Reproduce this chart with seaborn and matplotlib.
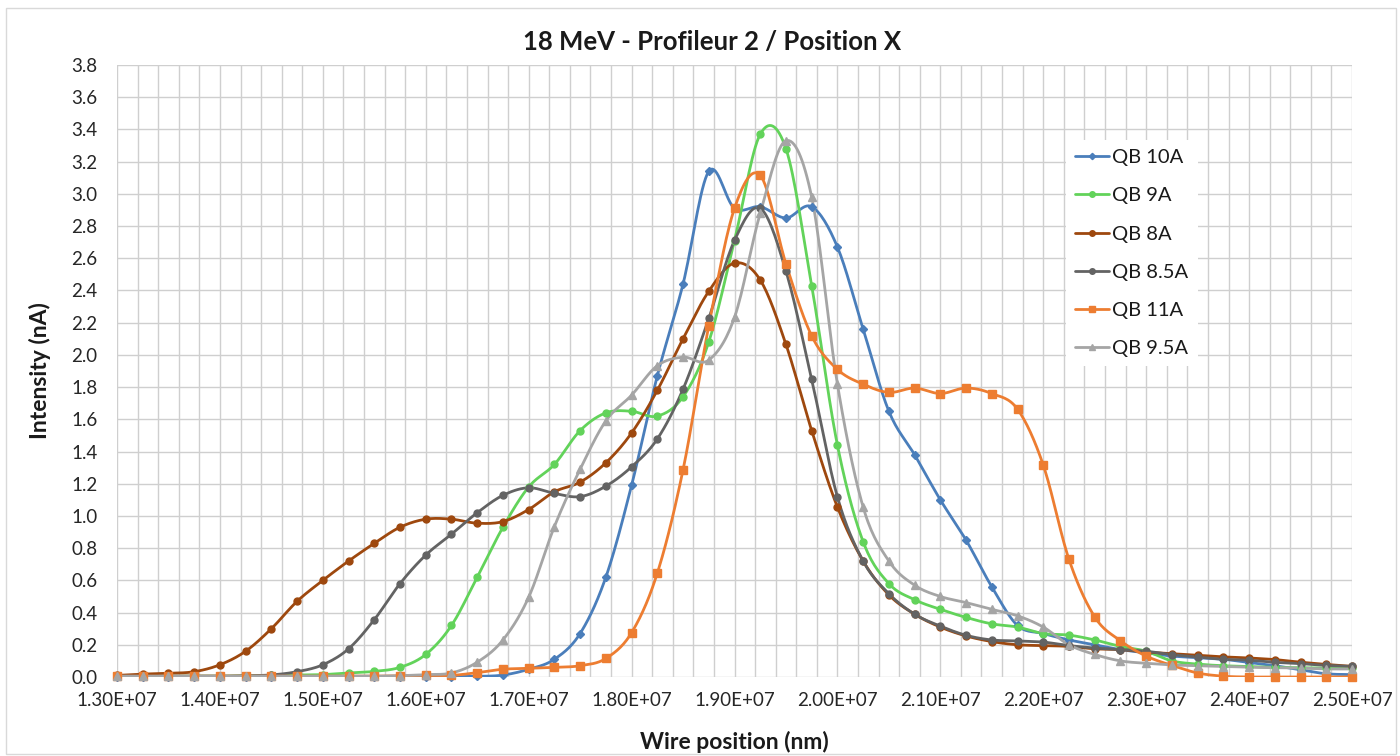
import numpy as np
import pandas as pd
import seaborn as sns
import matplotlib
matplotlib.use("Agg")
import matplotlib.pyplot as plt
from matplotlib.ticker import FuncFormatter, MultipleLocator
from matplotlib.lines import Line2D
from matplotlib.patches import Rectangle

# ---------------- data ----------------
wire_position = [
    1.300e7, 1.325e7, 1.350e7, 1.375e7, 1.400e7, 1.425e7, 1.450e7, 1.475e7,
    1.500e7, 1.525e7, 1.550e7, 1.575e7, 1.600e7, 1.625e7, 1.650e7, 1.675e7,
    1.700e7, 1.725e7, 1.750e7, 1.775e7, 1.800e7, 1.825e7, 1.850e7, 1.875e7,
    1.900e7, 1.925e7, 1.950e7, 1.975e7, 2.000e7, 2.025e7, 2.050e7, 2.075e7,
    2.100e7, 2.125e7, 2.150e7, 2.175e7, 2.200e7, 2.225e7, 2.250e7, 2.275e7,
    2.300e7, 2.325e7, 2.350e7, 2.375e7, 2.400e7, 2.425e7, 2.450e7, 2.475e7,
    2.500e7,
]

qb_10a = [0.0, 0.0, 0.0, 0.0, 0.0, 0.0, 0.0, 0.0, 0.0, 0.0, 0.0, 0.0, 0.0,
          0.002, 0.004, 0.012, 0.048, 0.11, 0.27, 0.62, 1.19, 1.87, 2.44, 3.14,
          2.91, 2.92, 2.85, 2.92, 2.67, 2.16, 1.65, 1.38, 1.10, 0.85, 0.56,
          0.32, 0.27, 0.23, 0.20, 0.17, 0.15, 0.13, 0.12, 0.11, 0.09, 0.07,
          0.045, 0.02, 0.015]

qb_9a = [0.005, 0.005, 0.005, 0.005, 0.005, 0.008, 0.010, 0.012, 0.015, 0.025,
         0.035, 0.06, 0.14, 0.32, 0.62, 0.93, 1.18, 1.32, 1.53, 1.64, 1.65,
         1.62, 1.74, 2.08, 2.71, 3.37, 3.28, 2.43, 1.44, 0.84, 0.58, 0.48,
         0.42, 0.37, 0.33, 0.31, 0.27, 0.26, 0.23, 0.19, 0.16, 0.10, 0.08,
         0.07, 0.065, 0.06, 0.058, 0.055, 0.053]

qb_8a = [0.01, 0.018, 0.023, 0.033, 0.076, 0.16, 0.30, 0.47, 0.60, 0.72, 0.83,
         0.93, 0.98, 0.98, 0.955, 0.965, 1.04, 1.15, 1.21, 1.33, 1.515, 1.78,
         2.10, 2.395, 2.57, 2.465, 2.065, 1.53, 1.055, 0.72, 0.51, 0.39, 0.31,
         0.255, 0.22, 0.20, 0.195, 0.19, 0.175, 0.17, 0.155, 0.145, 0.135,
         0.125, 0.118, 0.108, 0.092, 0.078, 0.066]

qb_8_5a = [0.005, 0.005, 0.005, 0.005, 0.005, 0.008, 0.013, 0.033, 0.076,
           0.175, 0.356, 0.58, 0.757, 0.887, 1.02, 1.128, 1.175, 1.14, 1.12,
           1.185, 1.305, 1.478, 1.787, 2.226, 2.711, 2.91, 2.52, 1.848, 1.118,
           0.72, 0.517, 0.39, 0.316, 0.259, 0.23, 0.224, 0.217, 0.195, 0.18,
           0.17, 0.16, 0.139, 0.124, 0.11, 0.104, 0.091, 0.083, 0.072, 0.066]

qb_11a = [0.005, 0.005, 0.005, 0.005, 0.005, 0.005, 0.005, 0.005, 0.005,
          0.005, 0.005, 0.008, 0.01, 0.01, 0.027, 0.048, 0.054, 0.06, 0.07,
          0.115, 0.275, 0.645, 1.286, 2.18, 2.91, 3.115, 2.565, 2.118, 1.91,
          1.818, 1.767, 1.794, 1.76, 1.794, 1.76, 1.663, 1.316, 0.73, 0.373,
          0.225, 0.13, 0.072, 0.025, 0.005, 0.0, 0.0, 0.0, 0.0, 0.0]

qb_9_5a = [0.005, 0.005, 0.005, 0.005, 0.005, 0.005, 0.005, 0.005, 0.005,
           0.005, 0.005, 0.008, 0.015, 0.025, 0.092, 0.23, 0.495, 0.934, 1.29,
           1.59, 1.75, 1.933, 1.986, 1.968, 2.233, 2.88, 3.33, 2.98, 1.818,
           1.055, 0.72, 0.57, 0.50, 0.462, 0.42, 0.38, 0.31, 0.20, 0.14, 0.10,
           0.085, 0.075, 0.07, 0.065, 0.06, 0.058, 0.055, 0.05, 0.05]

series_names = ["QB 10A", "QB 9A", "QB 8A", "QB 8.5A", "QB 11A", "QB 9.5A"]
series_values = [qb_10a, qb_9a, qb_8a, qb_8_5a, qb_11a, qb_9_5a]

# ---------------- style ----------------
colors = ["#4a7ebb", "#62d35a", "#9e480e", "#636363", "#ed7d31", "#a5a5a5"]
markers = ["D", "o", "o", "o", "s", "^"]
msizes = [4.0, 5.0, 5.0, 5.0, 5.5, 6.0]

sns.set_theme(style="white")
plt.rcParams["font.family"] = ["Lato", "DejaVu Sans"]


def smooth_curve(x, y, steps=16):
    """Catmull-Rom spline through the points (same as Excel smoothed line)."""
    x = np.asarray(x, float)
    y = np.asarray(y, float)
    px = np.concatenate([[x[0]], x, [x[-1]]])
    py = np.concatenate([[y[0]], y, [y[-1]]])
    t = np.linspace(0, 1, steps, endpoint=False)
    ox, oy = [], []
    for i in range(len(x) - 1):
        for arr, out in ((px, ox), (py, oy)):
            p0, p1, p2, p3 = arr[i], arr[i + 1], arr[i + 2], arr[i + 3]
            out.append(0.5 * (2 * p1 + (-p0 + p2) * t
                              + (2 * p0 - 5 * p1 + 4 * p2 - p3) * t ** 2
                              + (-p0 + 3 * p1 - 3 * p2 + p3) * t ** 3))
    ox.append([x[-1]])
    oy.append([y[-1]])
    return np.concatenate(ox), np.concatenate(oy)


W, H = 1400, 756
fig = plt.figure(figsize=(W / 100, H / 100), dpi=100)
fig.patch.set_facecolor("white")

L, R, T, B = 117, 1352, 65, 677
ax = fig.add_axes([L / W, 1 - B / H, (R - L) / W, (B - T) / H])
ax.set_facecolor("white")

for name, vals, c, m, ms in zip(series_names, series_values, colors, markers, msizes):
    sx, sy = smooth_curve(wire_position, vals)
    df = pd.DataFrame({"x": sx, "y": sy})
    sns.lineplot(data=df, x="x", y="y", ax=ax, color=c, lw=2.0, sort=False,
                 estimator=None, legend=False)
    ax.plot(wire_position, vals, ls="none", marker=m, ms=ms, color=c,
            markeredgecolor=c, clip_on=False, zorder=3)

ax.set_xlim(1.3e7, 2.5e7)
ax.set_ylim(0, 3.8)
ax.xaxis.set_major_locator(MultipleLocator(1e6))
ax.xaxis.set_minor_locator(MultipleLocator(2e5))
ax.yaxis.set_major_locator(MultipleLocator(0.2))
ax.xaxis.set_major_formatter(FuncFormatter(lambda v, p: f"{v / 1e7:.2f}E+07"))
ax.yaxis.set_major_formatter(FuncFormatter(lambda v, p: f"{v:.1f}"))
ax.grid(which="major", color="#cfcfcf", lw=1.0)
ax.grid(which="minor", axis="x", color="#cfcfcf", lw=1.0)
ax.set_axisbelow(True)
for s in ax.spines.values():
    s.set_visible(False)
ax.tick_params(axis="both", which="both", length=0, labelsize=13.5,
               labelcolor="#262626")
ax.tick_params(axis="x", pad=11)
ax.tick_params(axis="y", pad=14)

ax.set_xlabel("Wire position (nm)", fontsize=16.5, fontweight="bold",
              color="#1a1a1a")
ax.set_ylabel("Intensity (nA)", fontsize=16.5, fontweight="bold",
              color="#1a1a1a")
ax.xaxis.set_label_coords(0.5, (B - 742) / (B - T))
ax.xaxis.label.set_verticalalignment("center")
ax.yaxis.set_label_coords((40 - L) / (R - L), 0.5)
ax.yaxis.label.set_verticalalignment("center")

fig.text(712 / W, 1 - 42 / H, "18 MeV - Profileur 2 / Position X",
         ha="center", va="center", fontsize=18.5, fontweight="bold",
         color="#1a1a1a")

handles = [Line2D([], [], color=c, marker=m, ms=ms * 0.8, lw=2.0)
           for c, m, ms in zip(colors, markers, msizes)]
leg = ax.legend(handles, series_names, loc="upper left",
                bbox_to_anchor=(1066 / W, 1 - 140 / H),
                bbox_transform=fig.transFigure, frameon=True, fancybox=False,
                facecolor="white", edgecolor="none", framealpha=1.0,
                fontsize=14.5, handlelength=1.7, handletextpad=0.15,
                labelspacing=1.05, borderpad=0.45, borderaxespad=0)
for t in leg.get_texts():
    t.set_color("#1a1a1a")

fig.patches.append(Rectangle((6 / W, 2 / H), 1390 / W, 746 / H,
                             transform=fig.transFigure, fill=False,
                             ec="#d9d9d9", lw=1.0))

fig.savefig("out.png", dpi=100)
